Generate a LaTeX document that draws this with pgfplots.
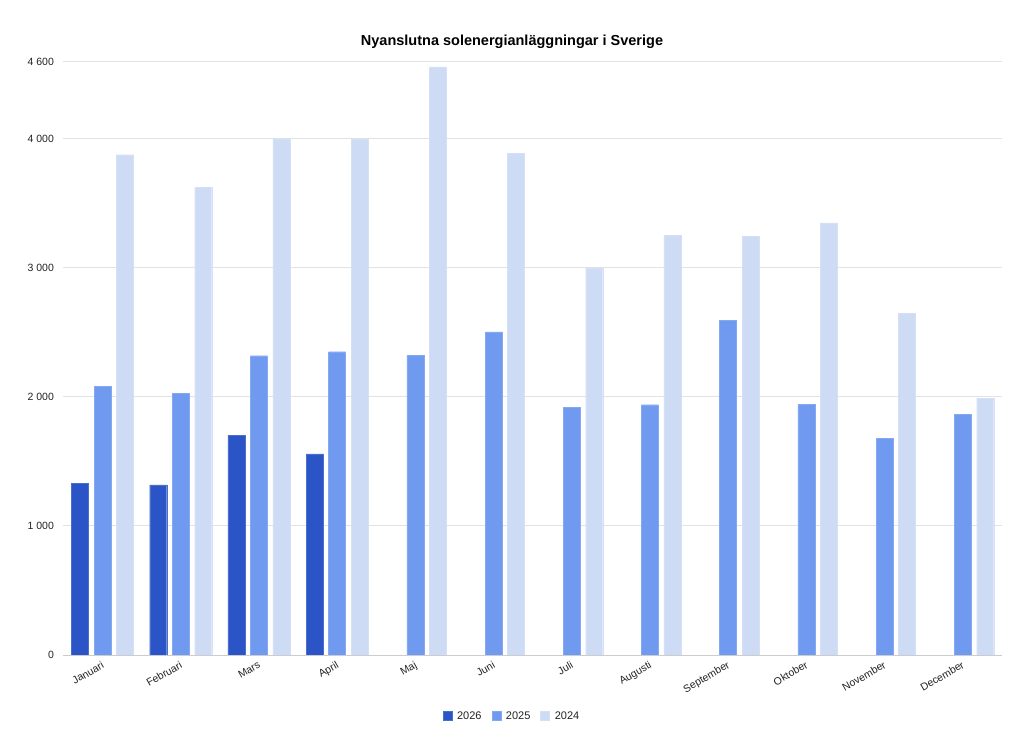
\documentclass[border=0pt]{standalone}
\usepackage{pgfplots}
\pgfplotsset{compat=1.18}
\usepackage{fontspec}
\setmainfont{Liberation Sans}
\definecolor{c26}{HTML}{2B55C6}
\definecolor{c25}{HTML}{6F9AEF}
\definecolor{c24}{HTML}{CDDBF5}
\definecolor{gridc}{HTML}{E2E2E2}
\definecolor{axc}{HTML}{CCCCCC}
\definecolor{txt}{HTML}{222222}
\begin{document}
\begin{tikzpicture}[x=1pt,y=1pt]
\path (0,0) rectangle (1024,749);
\node[font=\fontsize{14.5}{16}\selectfont\bfseries, text=black] at (512,707) {Nyanslutna solenergianläggningar i Sverige};
\begin{axis}[
  at={(63.4pt,94pt)}, anchor=south west,
  scale only axis,
  width=938.4pt, height=593.4pt,
  xmin=-0.5, xmax=11.5,
  ymin=0, ymax=4600,
  ybar=5.5pt, bar width=17pt,
  axis lines*=left,
  axis line style={draw=none},
  ytick={0,1000,2000,3000,4000,4600},
  yticklabels={0,1 000,2 000,3 000,4 000,4 600},
  ymajorgrids, grid style={gridc, line width=1pt},
  major tick length=0pt,
  xtick={0,...,11},
  xticklabels={Januari,Februari,Mars,April,Maj,Juni,Juli,Augusti,September,Oktober,November,December},
  xticklabel style={rotate=30, anchor=north east, inner sep=1pt, yshift=-3pt, xshift=-3pt},
  tick label style={font=\fontsize{10.5}{12}\selectfont, text=txt},
  yticklabel style={xshift=-6pt},
  legend columns=3,
  legend style={at={(0.478,-0.103)}, anchor=center, draw=none, fill=none,
    font=\fontsize{11}{12}\selectfont, text=txt,
    /tikz/every odd column/.append style={column sep=3pt},
    /tikz/every even column/.append style={column sep=8pt}},
  legend image code/.code={\fill[#1] (0pt,-4.5pt) rectangle (9pt,4.5pt);},
  clip=false,
]
\addplot[fill=c26, draw=c26!85!white] coordinates {(0,1332) (1,1318) (2,1702) (3,1560)};
\addplot[fill=c25, draw=c25!85!white] coordinates {(0,2085) (1,2026) (2,2320) (3,2351) (4,2323) (5,2504) (6,1920) (7,1940) (8,2593) (9,1943) (10,1679) (11,1863)};
\addplot[fill=c24, draw=c24!85!white] coordinates {(0,3878) (1,3623) (2,4000) (3,3998) (4,4559) (5,3887) (6,3000) (7,3251) (8,3243) (9,3349) (10,2651) (11,1987)};
\legend{2026,2025,2024}
\draw[axc, line width=1pt] (axis cs:-0.5,0) -- (axis cs:11.5,0);
\end{axis}
\end{tikzpicture}
\end{document}
